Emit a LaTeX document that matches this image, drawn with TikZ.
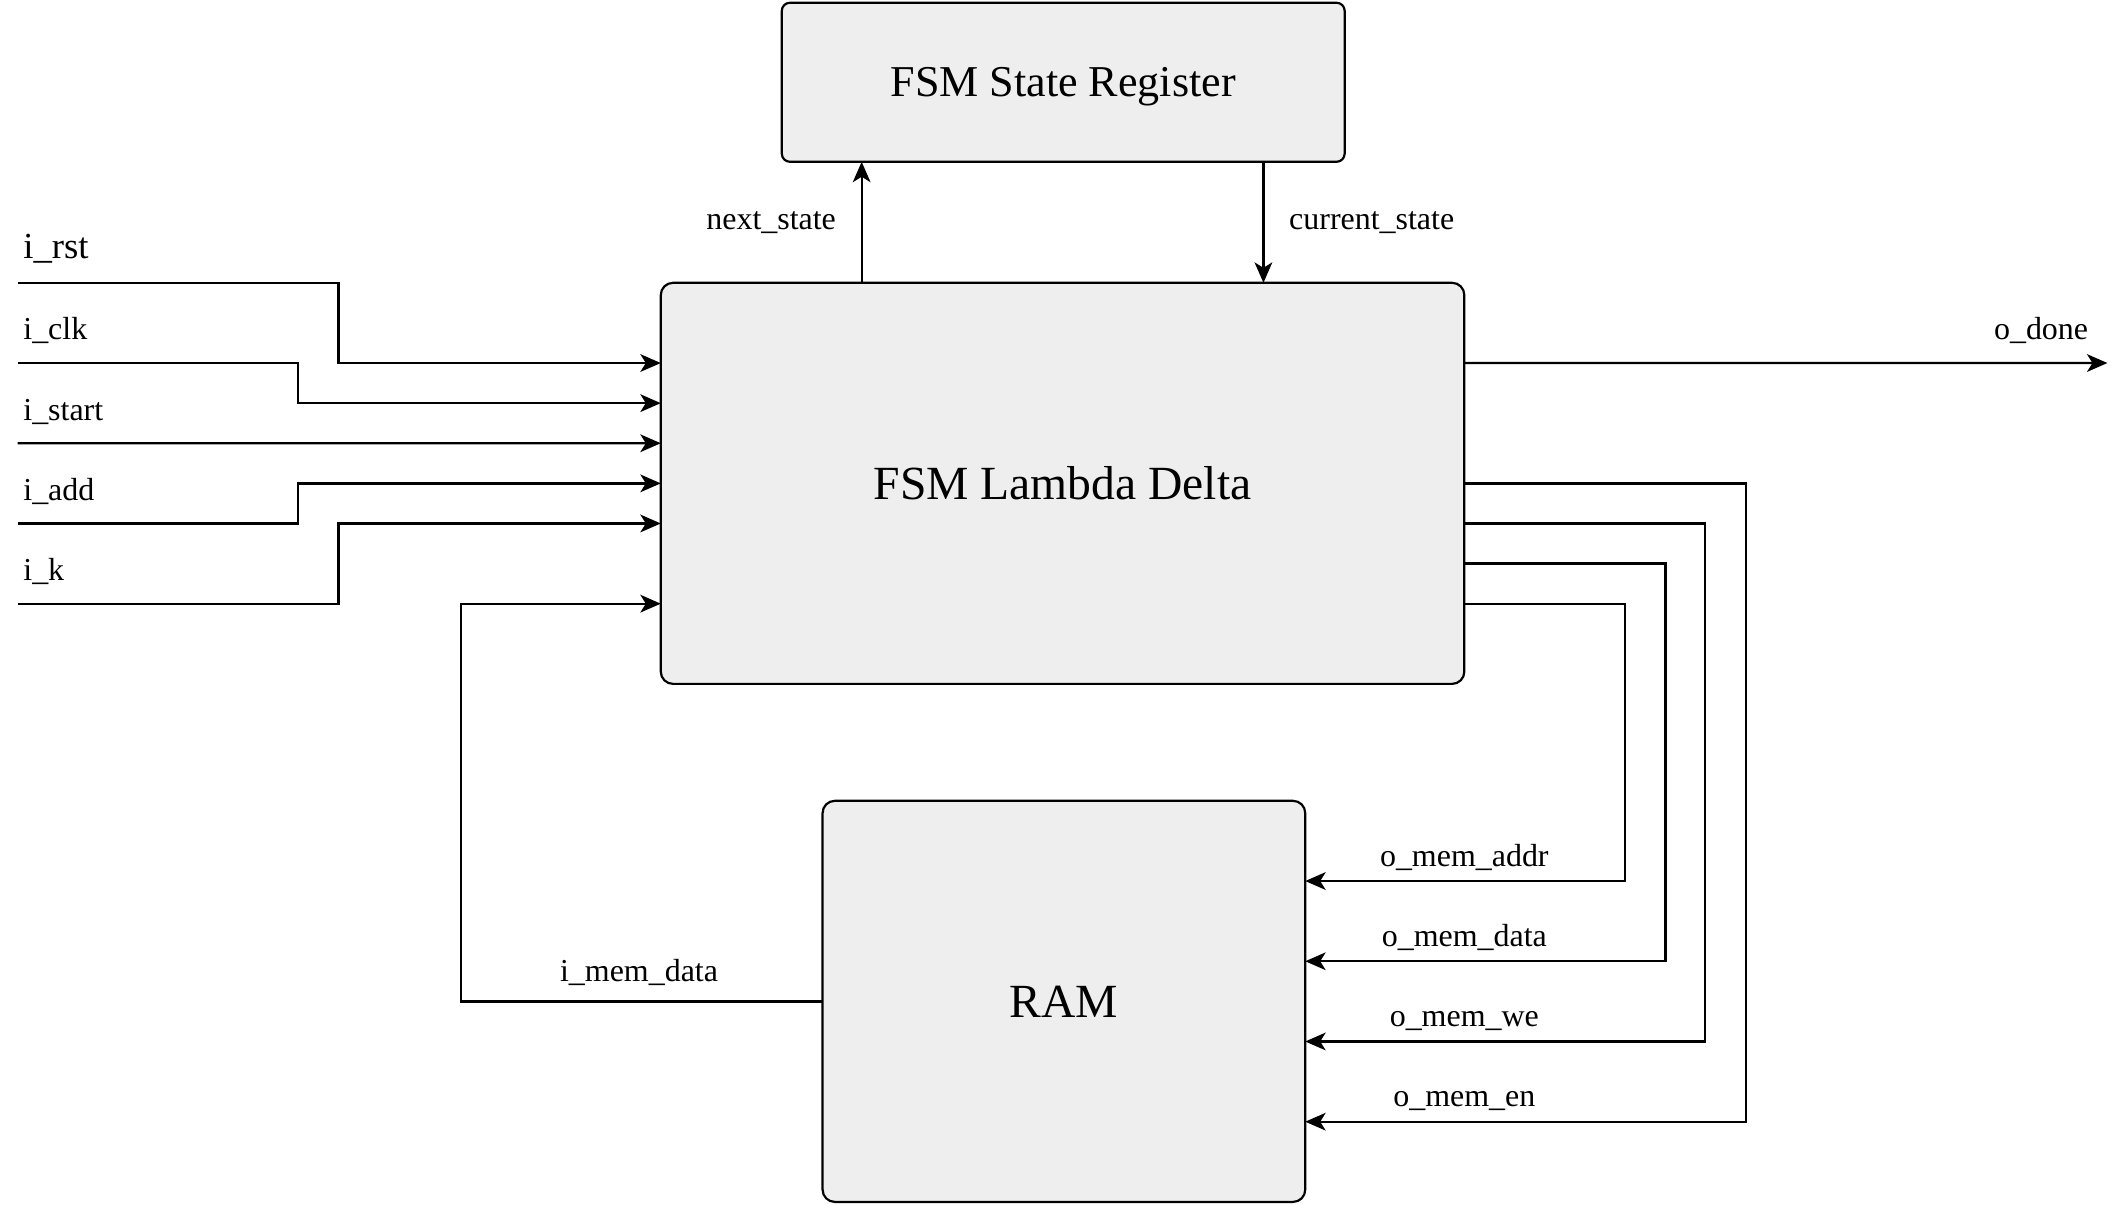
\documentclass[tikz,border=0pt]{standalone}
\usepackage{fontspec}
\setmainfont{Liberation Serif}
\usetikzlibrary{arrows.meta,calc}
\definecolor{boxgray}{HTML}{EEEEEE}
\begin{document}
\begin{tikzpicture}[x=1pt,y=-1pt,
  box/.style={draw=black, fill=boxgray, line width=1.6pt, rounded corners=9pt, inner sep=0pt, outer sep=0pt},
  wire/.style={line width=1.7pt},
  arr/.style={wire, -{Stealth[length=15pt,width=13pt,inset=4pt]}},
  lbl/.style={font=\fontsize{23.5}{28}\selectfont, inner sep=0pt},
  big/.style={font=\fontsize{35}{42}\selectfont}]
\useasboundingbox (0,0) rectangle (1560,886);

% boxes
\node[box, rounded corners=6pt, minimum width=414pt, minimum height=117pt, text depth=0pt, font=\fontsize{32.4}{38}\selectfont] (reg) at (782,60.5) {FSM State Register};
\node[box, big, minimum width=591pt, minimum height=295pt] (fsm) at (781.5,355.5) {FSM Lambda Delta};
\node[box, big, minimum width=355pt, minimum height=295pt] (ram) at (782.5,736.5) {RAM};

% ports on FSM
\foreach \f in {2,3,4,5,6,8} {
  \coordinate (fL\f) at ($(fsm.north west)!0.\f!(fsm.south west)$);
}
\foreach \f in {2,5,6,7,8} {
  \coordinate (fR\f) at ($(fsm.north east)!0.\f!(fsm.south east)$);
}
\coordinate (fT25) at ($(fsm.north west)!0.25!(fsm.north east)$);
\coordinate (fT75) at ($(fsm.north west)!0.75!(fsm.north east)$);
\foreach \f in {2,4,6,8} {
  \coordinate (rR\f) at ($(ram.north east)!0.\f!(ram.south east)$);
}

% free ends and bend columns
\coordinate (rst) at (13,208);
\coordinate (clk) at (13,267);
\coordinate (start) at (13,326);
\coordinate (add) at (13,385);
\coordinate (k) at (13,444);
\coordinate (done) at (1550,267);
\coordinate (xA) at (219,0);
\coordinate (xB) at (249,0);
\coordinate (xM) at (339,0);
\coordinate (xAddr) at (1195,0);
\coordinate (xData) at (1225,0);
\coordinate (xWe) at (1254,0);
\coordinate (xEn) at (1284,0);

% inputs
\draw[arr] (rst) -- (rst -| xB) |- (fL2);
\draw[arr] (clk) -- (clk -| xA) |- (fL3);
\draw[arr] (start) -- (fL4);
\draw[arr] (add) -- (add -| xA) |- (fL5);
\draw[arr] (k) -- (k -| xB) |- (fL6);
\draw[arr] (ram.west) -- (ram.west -| xM) |- (fL8);

% state register
\draw[arr] (fT25) -- (fT25 |- reg.south);
\draw[arr] (fT75 |- reg.south) -- (fT75);

% outputs
\draw[arr] (fR2) -- (done);
\draw[arr] (fR5) -- (fR5 -| xEn) |- (rR8);
\draw[arr] (fR6) -- (fR6 -| xWe) |- (rR6);
\draw[arr] (fR7) -- (fR7 -| xData) |- (rR4);
\draw[arr] (fR8) -- (fR8 -| xAddr) |- (rR2);

% labels
\node[lbl, anchor=base west, font=\fontsize{27}{32}\selectfont] (lrst) at (17,190) {i\_rst};
\node[lbl, anchor=base west] (lclk) at (17,250) {i\_clk};
\node[lbl, anchor=base west] (lstart) at (17,309) {i\_start};
\node[lbl, anchor=base west] (ladd) at (17,368) {i\_add};
\node[lbl, anchor=base west] (lk) at (17,427) {i\_k};
\node[lbl, anchor=base east] (lnext) at (615,169) {next\_state};
\node[lbl, anchor=base west] (lcur) at (948,169) {current\_state};
\node[lbl, anchor=base east] (ldone) at (1536,250) {o\_done};
\node[lbl, anchor=base] (lmem) at (470,722) {i\_mem\_data};
\node[lbl, anchor=base] (laddr) at (1077,637) {o\_mem\_addr};
\node[lbl, anchor=base] (ldata) at (1077,696) {o\_mem\_data};
\node[lbl, anchor=base] (lwe) at (1077,755) {o\_mem\_we};
\node[lbl, anchor=base] (len) at (1077,814) {o\_mem\_en};
\end{tikzpicture}
\end{document}
